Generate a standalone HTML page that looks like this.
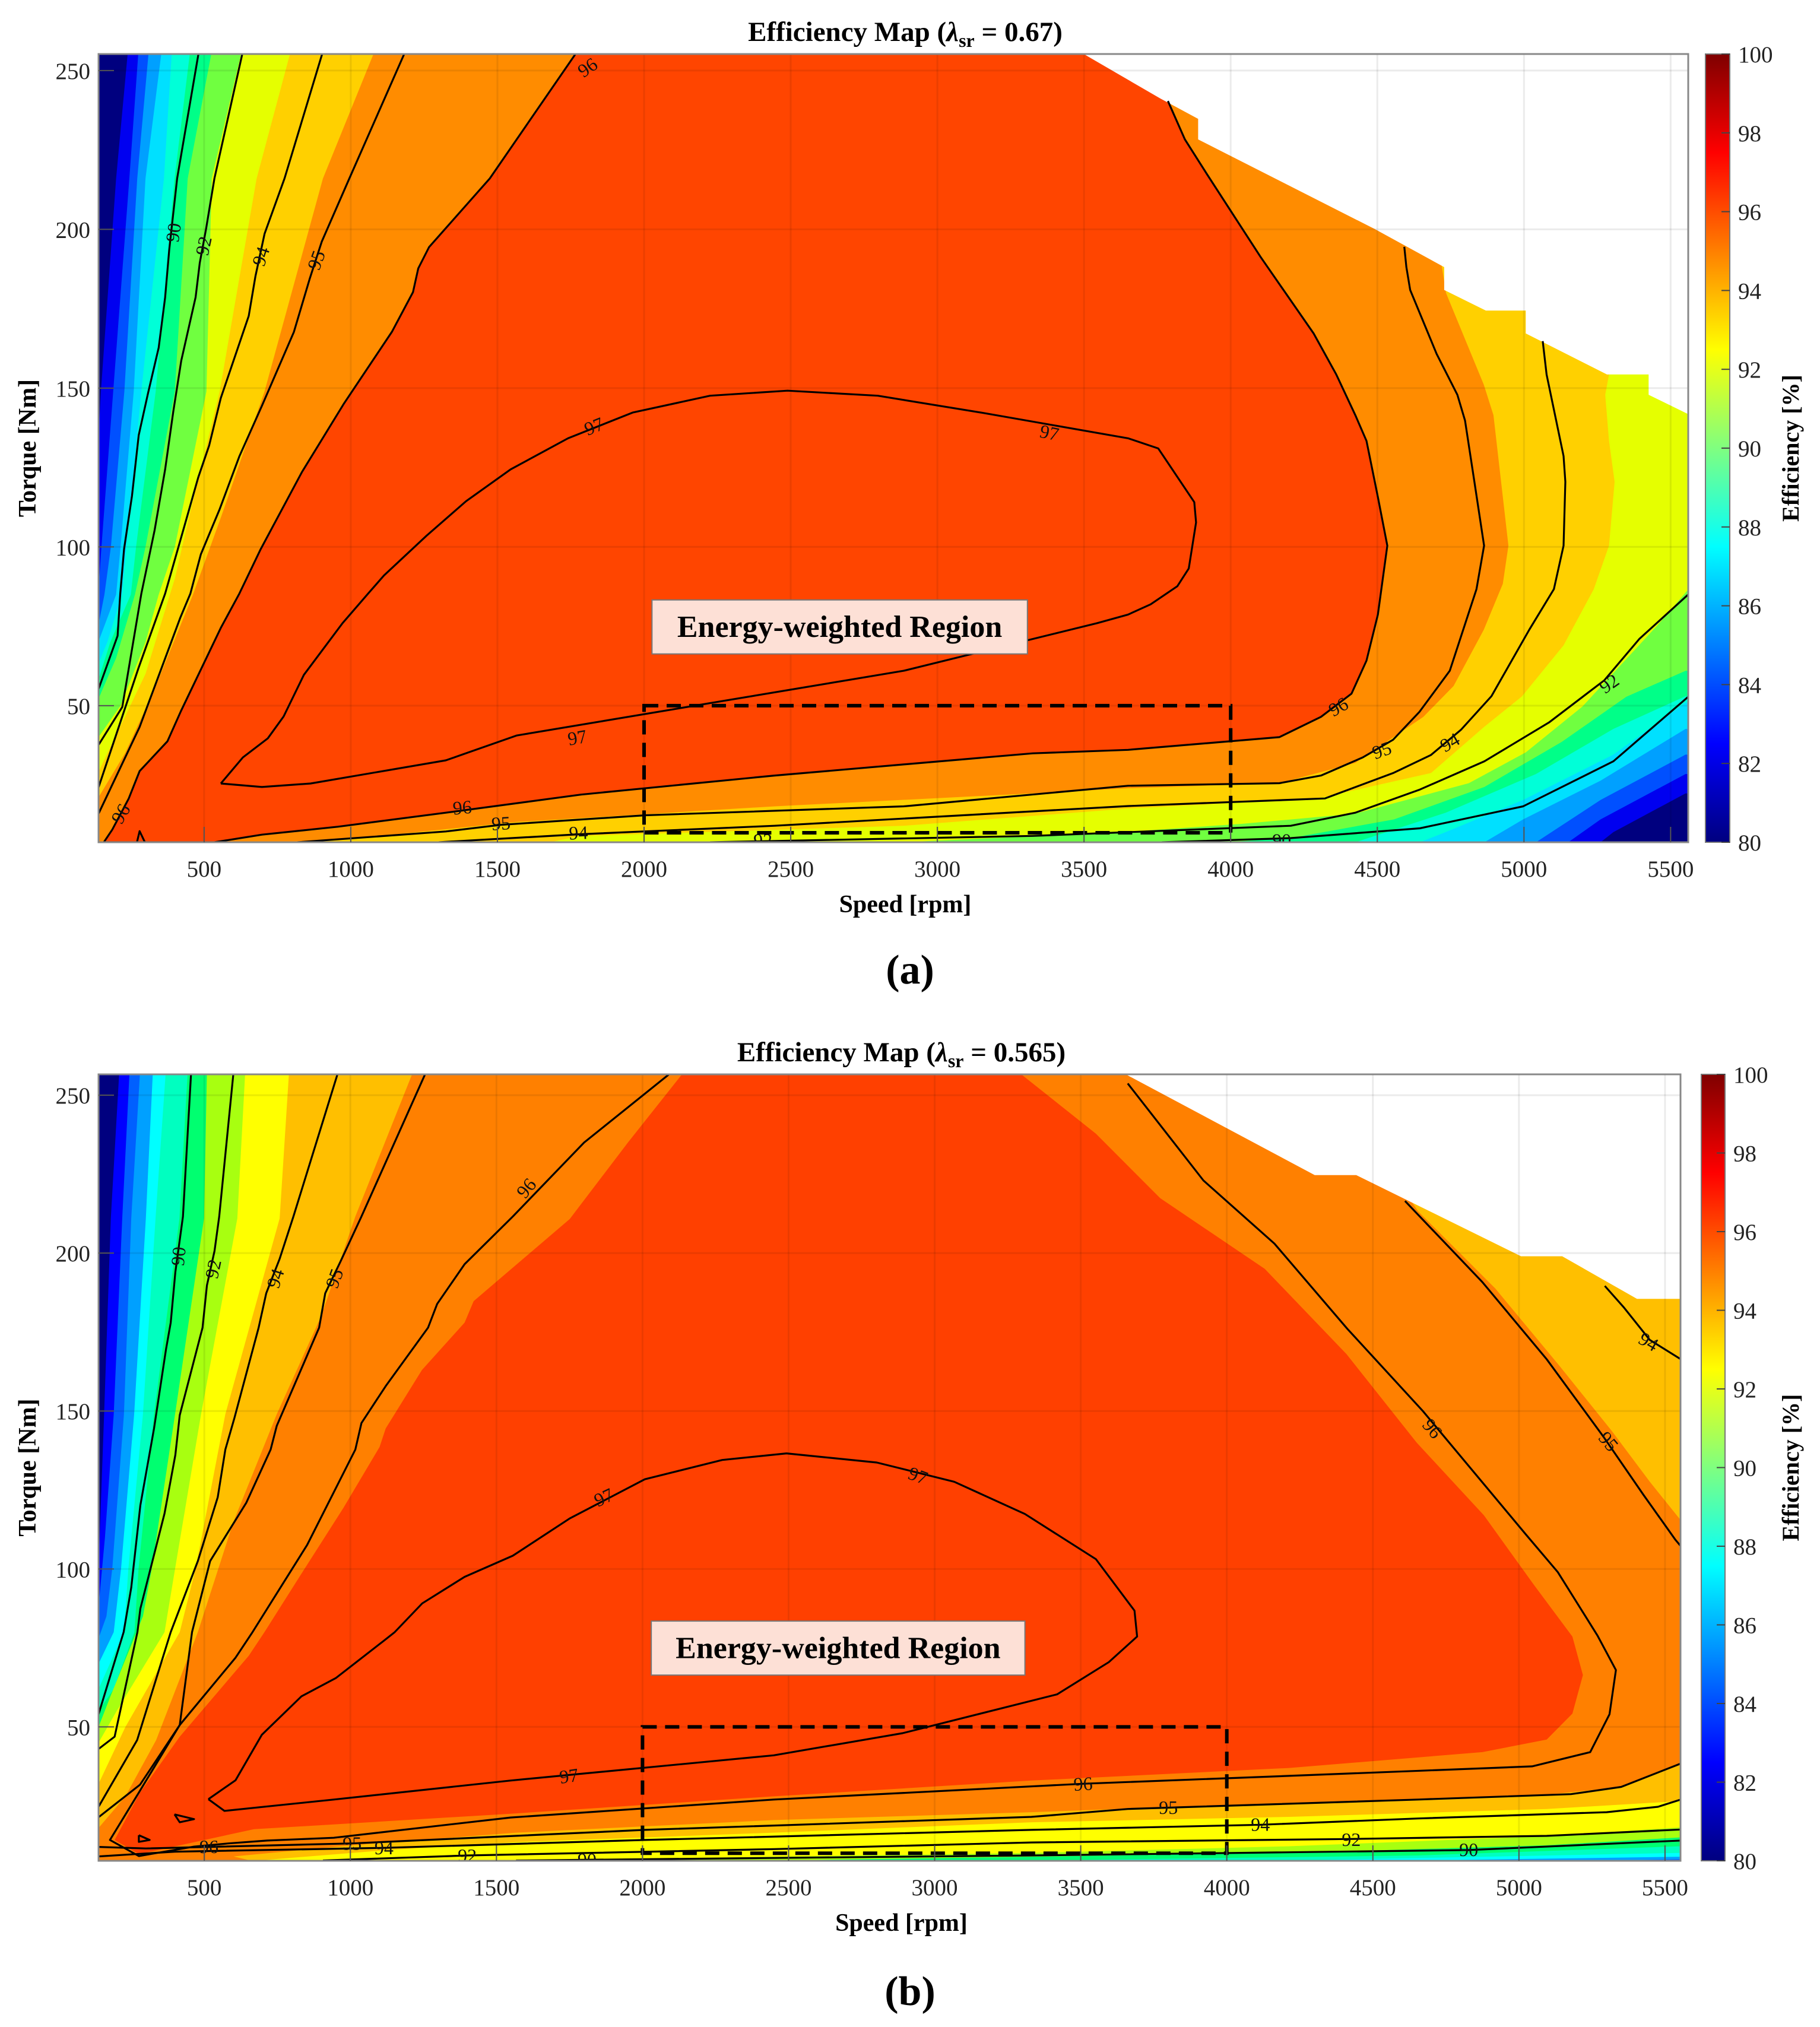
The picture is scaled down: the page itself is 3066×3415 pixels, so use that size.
<!DOCTYPE html>
<html><head><meta charset="utf-8"><title>Efficiency Maps</title>
<style>
html,body{margin:0;padding:0;background:#fff;}
svg{display:block;font-family:"Liberation Serif",serif;}
</style></head>
<body>
<svg id="fig" xmlns="http://www.w3.org/2000/svg" width="3066" height="3415" viewBox="0 0 3066 3415">
<defs>
<linearGradient id="jet" x1="0" y1="1" x2="0" y2="0">
<stop offset="0" stop-color="#00007f"/><stop offset="0.125" stop-color="#0000ff"/><stop offset="0.375" stop-color="#00ffff"/><stop offset="0.625" stop-color="#ffff00"/><stop offset="0.875" stop-color="#ff0000"/><stop offset="1" stop-color="#7f0000"/>
</linearGradient>
<clipPath id="clipA"><rect x="166" y="91" width="2678" height="1328"/></clipPath>
<clipPath id="clipB"><rect x="166" y="1810" width="2665" height="1325"/></clipPath>
</defs>
</svg>
<script>
// ---------- shared axis data ----------
const xTicks=[500,1000,1500,2000,2500,3000,3500,4000,4500,5000,5500];
const yTicks=[50,100,150,200,250];
const cbTicks=[80,82,84,86,88,90,92,94,96,98,100];
const regionBox=[[2000,10],[4000,50]];

// ---------- plot (a) data: filled regions (rpm, Nm) ----------
const aR84=[[240,256],[200,216],[148,149],[139,133],[100,133],[100,0],[5200,0],[5261,7],[5305,10.2],[5551,22.4],[5700,22],[5700,260]];
const aR85=[[276,256],[245,216],[190,149],[150,100],[139,85],[100,85],[100,0],[5100,0],[5151,7],[5261,14.2],[5551,28.5],[5700,28],[5700,260]];
const aR86=[[311,256],[272,216],[228,149],[182,100],[160,85],[139,75],[100,75],[100,0],[5000,0],[5041,7],[5261,20.3],[5551,34.6],[5700,34],[5700,260]];
const aR87=[[355,256],[300,216],[260,149],[215,100],[200,85],[139,70],[100,70],[100,0],[4800,0],[4865,7],[4997,14.2],[5261,26.4],[5551,42.7],[5700,42],[5700,260]];
const aR88=[[390,256],[363,216],[286,149],[235,100],[220,85],[170,70],[139,63],[100,63],[100,0],[4600,0],[4645,7],[4733,10.2],[4997,20.3],[5305,34.6],[5551,51],[5700,51],[5700,260]];
const aR90=[[452,256],[399,216],[335,149],[268,100],[250,85],[180,70],[139,58],[100,58],[100,0],[4400,0],[4425,7],[4733,16.3],[5041,28.5],[5305,42.7],[5551,53],[5700,53],[5700,260]];
const aR91=[[526,256],[444,216],[400,149],[300,100],[264,85],[200,65],[139,52],[100,52],[100,0],[3800,0],[3985,7],[4205,8.3],[4557,14.2],[4865,24.4],[5129,38.6],[5349,52.8],[5551,61],[5700,61],[5700,260]];
const aR92=[[628,256],[526,216],[508,149],[400,100],[345,85],[300,70],[215,50],[139,40],[100,40],[100,0],[2500,0],[2885,7],[3650,10.3],[4037,12.8],[4425,16],[4812,25.6],[5006,35.3],[5199,49.7],[5328,62.6],[5457,75.5],[5561,86.7],[5700,86],[5700,260]];
const aR94=[[795,256],[679,216],[553,149],[450,110],[400,90],[300,60],[139,29],[100,29],[100,0],[1300,0],[1785,9],[2885,12.2],[3650,17.6],[4296,20.8],[4683,28.8],[4864,43.3],[4993,52.9],[5135,69],[5238,86.7],[5290,100.4],[5309,120.5],[5290,133.4],[5277,147.9],[5290,154.3],[5290,260]];
const aR95=[[1081,256],[905,216],[706,149],[560,110],[462,85],[330,55],[230,35],[139,21],[100,21],[100,0],[818,0],[818,7],[1100,9],[1565,13.4],[2445,18.3],[3325,22.4],[3650,24],[4166,25.6],[4425,32],[4657,46.5],[4760,56.2],[4863,73.9],[4928,88.4],[4947,100.4],[4896,141.5],[4863,151.1],[4734,180],[4700,200],[4645,260],[1081,260]];
const aR96=[[3786,240.4],[3844,228.3],[3921,217.1],[4102,191.3],[4283,167.2],[4360,154.3],[4425,141.5],[4463,133.4],[4502,115.7],[4534,100.4],[4502,78.7],[4463,64.2],[4412,53.8],[4308,46.5],[4166,40.1],[3650,36.1],[3325,35],[2445,28],[1785,22],[1324,16.3],[956,11.9],[697,9.4],[535,7],[158,7],[187,11],[243,20.8],[280,29.4],[375,38.8],[421,48.3],[557,74.5],[620,85.3],[693,99.3],[833,123.5],[977,145.2],[1140,167.7],[1212,180.2],[1230,187.7],[1267,194.4],[1474,216],[1772,256],[3765,256]];
const aEnvelope=[[3484,256],[3760,241.2],[3889,234.8],[3889,228.3],[4489,200.2],[4728,188.1],[4728,180.9],[4870,174.4],[5006,174.4],[5006,167.2],[5283,154.3],[5425,154.3],[5425,147.9],[5600,140],[5600,270],[3484,270]];

// ---------- plot (a) contour lines ----------
const aL90a=[[482,256],[408,216],[381,193.6],[367,178.6],[345,162.7],[309,148.5],[277,135.2],[254,116],[227,99.3],[214,85.3],[205,72],[139,55]];
const aL90b=[[5561,52.9],[5305,32.5],[4997,18.3],[4645,11.4],[4205,8.3],[3765,7]];
const aL92a=[[632,256],[535,216],[507,200.3],[485,189.4],[471,178.6],[422,158.6],[395,142.7],[367,124.4],[331,105.2],[286,85.3],[221,49.6],[139,37.5]];
const aL92b=[[5561,85.1],[5393,71],[5274,58],[5085,44.7],[4865,32.5],[4645,23.6],[4425,16.3],[4205,12.2],[3325,9],[2225,7]];
const aL94a=[[905,256],[774,216],[706,198.6],[675,185.2],[652,172.7],[557,146.9],[517,131.9],[480,121.9],[431,106],[367,85.3],[276,61.8],[139,24]];
const aL94b=[[5064,164.8],[5077,154.3],[5135,128.6],[5141,120.5],[5135,100.4],[5102,86.7],[5018,73.9],[4889,53],[4786,42.5],[4683,34.5],[4554,28.8],[4321,20.8],[3650,18.4],[2445,12.2],[1776,9.5],[1300,7]];
const aL95a=[[1186,256],[995,216],[901,196.1],[860,184.4],[806,167.7],[697,144.4],[620,128.5],[553,111.9],[489,97.7],[453,85.3],[419,77.8],[280,43.3],[139,15.8]];
const aL95b=[[4592,194.5],[4599,188.1],[4612,180.9],[4702,160.8],[4773,147.9],[4799,139.8],[4831,120.5],[4864,100.4],[4838,86.7],[4747,61],[4644,48.1],[4554,39.3],[4450,33.7],[4308,28],[4166,25.6],[3650,24.8],[2885,18.3],[2005,15.5],[1512,12.5],[1324,10.4],[818,7]];
const aL96tri=[[271,7],[280,10.5],[298,7]];
const aL97=[[557,25.5],[632,33.7],[717,39.7],[771,46.6],[840,59.7],[972,76],[1059,85.3],[1113,91],[1258,103.5],[1393,114.4],[1545,124.4],[1741,134.2],[1961,142.3],[2225,147.6],[2489,149.2],[2797,147.6],[3149,142.3],[3650,134.2],[3753,131],[3876,114.1],[3882,107.7],[3857,93.2],[3818,87.6],[3727,81.9],[3650,78.7],[3545,76],[2885,61],[2225,50.8],[1565,40.6],[1324,32.8],[863,25.5],[697,24.4],[557,25.5]];
const aLabels=[["90",395,199,-82],["92",498,194.8,-78],["94",693,191.5,-72],["95",882,190.3,-70],["96",1807,251,-35],["97",1829,138,-22],["97",3382,136,12],["97",1772,40,-10],["96",1380,18,-5],["95",1512,13,-3],["94",1776,10,-2],["92",2405,7.7,0],["90",4174,7.7,0],["96",4367,49.7,-30],["95",4515,36,-20],["94",4747,38.5,-30],["92",5290,57,-35],["96",215,16,-60]];
const aTextBox=[[2027,83.3],[3307,66.3]];

// ---------- plot (b) data ----------
const bR84=[[209,257.3],[180,211],[157,149],[138,100],[100,100],[100,0],[5700,0],[5700,260]];
const bR85=[[244,257.3],[219,211],[190,149],[160,110],[138,88],[100,88],[100,0],[5400,0],[5700,5],[5700,260]];
const bR86=[[280,257.3],[250,211],[225,149],[185,100],[165,85],[138,78],[100,78],[100,0],[5000,0],[5316,7.7],[5554,8.1],[5700,8],[5700,260]];
const bR87=[[324,257.3],[300,211],[260,149],[215,100],[190,80],[138,70],[100,70],[100,0],[4000,0],[4654,7.7],[5554,8.9],[5700,9],[5700,260]];
const bR88=[[368,257.3],[333,211],[290,149],[240,100],[225,80],[138,62],[100,62],[100,0],[3500,0],[4213,7.7],[5554,10.1],[5700,10],[5700,260]];
const bR90=[[443,257.3],[415,211],[328,149],[275,100],[261,80],[190,62],[138,55],[100,55],[100,0],[3000,0],[3331,7.7],[4654,9.3],[5554,12.2],[5700,12],[5700,260]];
const bR91=[[509,257.3],[499,211],[400,149],[320,100],[290,85],[180,60],[138,50],[100,50],[100,0],[2500,0],[2449,7.7],[4213,10.1],[5095,12.5],[5554,15],[5700,15],[5700,260]];
const bR92=[[640,257.3],[613,211],[489,149],[400,100],[364,80],[200,55],[138,45],[100,45],[100,0],[2000,0],[1567,7.7],[3331,10.1],[4213,12.2],[5095,15.4],[5554,18.2],[5700,18],[5700,260]];
const bR94=[[790,257.3],[758,211],[572,149],[470,100],[416,80],[230,50],[138,32],[100,32],[100,0],[800,0],[685,7.7],[1126,11],[1567,13.5],[2449,16.5],[3331,19.8],[4213,21.5],[5095,24],[5554,26.5],[5700,26],[5700,260]];
const bR95=[[1214,257.3],[1017,211.6],[900,180],[748,149],[600,115],[478,80],[335,45.8],[230,28],[138,18],[100,18],[100,0],[1000,0],[600,9],[1006,12.5],[1567,16.5],[2449,20.5],[3331,23],[4213,26],[5095,28.5],[5350,31],[5554,38],[5700,38],[5700,115],[5554,115.4],[5448,127.6],[5316,143.9],[5139,164.3],[4919,188.8],[4654,213.3],[4478,237.8],[4390,260],[1214,260]];
const bR96=[[3552,237.8],[3772,217.4],[4130,195],[4410,168],[4650,140],[4880,117],[5051,95],[5183,78.6],[5219,66.4],[5183,54.2],[5095,46],[4875,42],[4213,37],[3331,33],[2449,28],[1548,22.5],[670,17.6],[276,9.7],[193,14.2],[280,29.2],[416,46.9],[652,72.5],[706,80],[831,98.3],[976,119.3],[1100,138.6],[1121,144.5],[1245,163],[1391,178],[1422,184.8],[1751,210.8],[1950,235],[2141,257.3],[3287,257.3]];
const bEnvelope=[[3640,257.3],[4301,224.7],[4443,224.7],[5007,199],[5148,199],[5404,185.5],[5600,185.5],[5600,270],[3640,270]];

const bL90a=[[455,257.3],[427,211.6],[401,194],[385,178],[369,169.6],[328,144.5],[281,120.1],[250,94.1],[224,80],[138,54]];
const bL90b=[[1567,7.7],[2449,8.5],[3331,9.3],[4828,11],[5554,14]];
const bL92a=[[600,257.3],[551,211.6],[535,200.7],[509,189.8],[494,176.4],[416,148.7],[401,136.1],[364,117.6],[281,87.4],[271,80],[193,46.9],[138,43]];
const bL92b=[[906,7.7],[1400,9.3],[2449,11.3],[3331,13.4],[4412,14.5],[5095,15.5],[5554,17.5]];
const bL94a=[[958,257.3],[805,211.6],[758,198.2],[712,187.3],[686,176.4],[603,147.8],[572,137.8],[546,122.7],[478,102.5],[385,80],[270,45.8],[138,24.7]];
const bL94b=[[5294,189.6],[5360,182.7],[5448,172.5],[5554,166.4]];
const bL94c=[[138,9],[400,10.5],[1115,11.7],[2008,14.2],[3331,17.4],[4115,19],[4654,21],[5300,23],[5476,24.7],[5554,27]];
const bL95a=[[1259,257.3],[1038,211.6],[966,197.3],[914,187.3],[893,176.4],[748,145.3],[727,137.8],[644,121],[520,102.5],[458,80],[416,50.6],[280,31.7],[138,21.4]];
const bL95b=[[138,12],[300,11.5],[1006,13.1],[2008,17.4],[3331,21.5],[3661,24],[4654,27],[5178,28.7],[5350,31],[5554,38.4]];
const bL95c=[[4610,216.5],[4875,190.8],[5095,166.4],[5289,141.9],[5426,123.5],[5536,109.2],[5554,107.2]];
const bL96=[[2096,257],[1800,235],[1556,211.6],[1391,196.5],[1297,183.9],[1266,176.4],[1121,157.9],[1038,146.2],[1017,137.8],[852,107.6],[665,80],[607,71.9],[416,50.6],[276,29.2],[177,14.2],[276,9.1],[465,12.1],[583,13.1],[715,14],[943,14.9],[1548,21.3],[2449,27],[3508,32],[4213,34.5],[5045,37.5],[5244,42],[5310,54],[5332,68],[5269,78.9],[5133,99],[5023,111],[4671,150],[4413,176],[4163,203],[3920,223],[3661,253.7]];
const bL96tri1=[[398,22.3],[465,20.8],[416,19.8],[398,22.3]];
const bL96tri2=[[276,15.7],[313,14.2],[276,13.6],[276,15.7]];
const bL97=[[514,27.1],[607,33.1],[697,47.5],[833,59.7],[951,65.5],[1115,77.3],[1152,80],[1246,89.1],[1391,97.5],[1556,104.2],[1751,116],[2008,128.4],[2273,134.5],[2493,136.6],[2802,133.7],[3067,127.6],[3309,117.4],[3552,103.1],[3684,86.8],[3693,78.6],[3596,70.5],[3419,60.3],[2890,48],[2449,41],[1548,33],[943,27],[569,23.4],[514,27.1]];
const bLabels=[["90",411,199,-84],["92",530,195,-78],["94",743,192,-72],["95",945,192,-70],["96",1602,220.6,-50],["97",1867,122.7,-25],["97",2943,129.6,20],["97",1748,34.5,-8],["96",3508,32,-3],["96",516,12.1,0],["95",1006,13.1,0],["94",1115,11.7,0],["92",1400,9.3,0],["90",1810,8,0],["95",3800,24.5,0],["94",4115,19.2,0],["92",4426,14.4,0],["90",4828,11.2,0],["96",4704,144.5,50],["95",5307,140.4,50],["94",5444,172,30]];
const bTextBox=[[2030,83.5],[3309,66.4]];

const svg=document.getElementById('fig');
const NS='http://www.w3.org/2000/svg';
function mk(tag,parent){const e=document.createElementNS(NS,tag);parent.appendChild(e);return e;}

function drawPlot(P){
  const g=mk('g',svg);
  
  
  const X=s=>P.L+(s-P.x0)/(P.x1-P.x0)*(P.R-P.L);
  const Y=t=>P.B-(t-P.y0)/(P.y1-P.y0)*(P.B-P.T);
  const pts=a=>a.map(p=>X(p[0]).toFixed(1)+','+Y(p[1]).toFixed(1)).join(' ');
  const inner=mk('g',g);
  inner.setAttribute('clip-path','url(#'+P.clip+')');
  
  
  const bg=mk('rect',inner);
  bg.setAttribute('x',P.L);bg.setAttribute('y',P.T);bg.setAttribute('width',P.R-P.L);bg.setAttribute('height',P.B-P.T);bg.setAttribute('fill','#00007f');
  
  
  P.regions.forEach(r=>{
    const pg=mk('polygon',inner);
    pg.setAttribute('points',pts(r[2]));pg.setAttribute('fill',r[1]);
    
    
  });
  const env=mk('polygon',inner);
  env.setAttribute('points',pts(P.envelope));env.setAttribute('fill','#fff');
  
  
  xTicks.forEach(v=>{const l=mk('line',inner);l.setAttribute('x1',X(v));l.setAttribute('x2',X(v));l.setAttribute('y1',P.T);l.setAttribute('y2',P.B);l.setAttribute('stroke','#000');l.setAttribute('stroke-opacity','0.08');l.setAttribute('stroke-width','3');
    
    });
  yTicks.forEach(v=>{const l=mk('line',inner);l.setAttribute('y1',Y(v));l.setAttribute('y2',Y(v));l.setAttribute('x1',P.L);l.setAttribute('x2',P.R);l.setAttribute('stroke','#000');l.setAttribute('stroke-opacity','0.08');l.setAttribute('stroke-width','3');
    
    });
  P.lines.forEach(ln=>{
    const pl=mk('polyline',inner);
    pl.setAttribute('points',pts(ln[1]));pl.setAttribute('fill','none');pl.setAttribute('stroke','#000');pl.setAttribute('stroke-width','3.2');pl.setAttribute('stroke-linejoin','round');
    
    
  });
  P.labels.forEach(lb=>{
    const t=mk('text',inner);
    t.textContent=lb[0];
    t.setAttribute('x',X(lb[1]));t.setAttribute('y',Y(lb[2]));t.setAttribute('font-size','32');t.setAttribute('fill','#111');t.setAttribute('text-anchor','middle');t.setAttribute('dominant-baseline','central');
    t.setAttribute('transform','rotate('+lb[3]+' '+X(lb[1])+' '+Y(lb[2])+')');
    
    
  });
  const rb=mk('rect',g);
  rb.setAttribute('x',X(regionBox[0][0]));rb.setAttribute('y',Y(regionBox[1][1]));rb.setAttribute('width',X(regionBox[1][0])-X(regionBox[0][0]));rb.setAttribute('height',Y(regionBox[0][1])-Y(regionBox[1][1]));
  rb.setAttribute('fill','none');rb.setAttribute('stroke','#000');rb.setAttribute('stroke-width','6');rb.setAttribute('stroke-dasharray','24 14');
  
  
  const tb=mk('rect',g);
  tb.setAttribute('x',X(P.textBox[0][0]));tb.setAttribute('y',Y(P.textBox[0][1]));tb.setAttribute('width',X(P.textBox[1][0])-X(P.textBox[0][0]));tb.setAttribute('height',Y(P.textBox[1][1])-Y(P.textBox[0][1]));
  tb.setAttribute('fill','#fde0d6');tb.setAttribute('stroke','#777');tb.setAttribute('stroke-width','2');
  
  
  const tt=mk('text',g);
  tt.textContent='Energy-weighted Region';
  tt.setAttribute('x',(X(P.textBox[0][0])+X(P.textBox[1][0]))/2);tt.setAttribute('y',(Y(P.textBox[0][1])+Y(P.textBox[1][1]))/2+17);
  tt.setAttribute('font-size','52');tt.setAttribute('font-weight','bold');tt.setAttribute('text-anchor','middle');
  
  
  const bd=mk('rect',g);
  bd.setAttribute('x',P.L);bd.setAttribute('y',P.T);bd.setAttribute('width',P.R-P.L);bd.setAttribute('height',P.B-P.T);bd.setAttribute('fill','none');bd.setAttribute('stroke','#888');bd.setAttribute('stroke-width','3');
  
  
  xTicks.forEach(v=>{
    const tk=mk('line',g);tk.setAttribute('x1',X(v));tk.setAttribute('x2',X(v));tk.setAttribute('y1',P.B);tk.setAttribute('y2',P.B-26);tk.setAttribute('stroke','#555');tk.setAttribute('stroke-width','2');
    
    
    const t=mk('text',g);t.textContent=v;t.setAttribute('x',X(v));t.setAttribute('y',P.B+58);t.setAttribute('font-size','39');t.setAttribute('text-anchor','middle');t.setAttribute('fill','#222');
    
    
  });
  yTicks.forEach(v=>{
    const tk=mk('line',g);tk.setAttribute('y1',Y(v));tk.setAttribute('y2',Y(v));tk.setAttribute('x1',P.L);tk.setAttribute('x2',P.L+26);tk.setAttribute('stroke','#555');tk.setAttribute('stroke-width','2');
    
    
    const t=mk('text',g);t.textContent=v;t.setAttribute('x',P.L-14);t.setAttribute('y',Y(v)+14);t.setAttribute('font-size','39');t.setAttribute('text-anchor','end');t.setAttribute('fill','#222');
    
    
  });
  const ti=mk('text',g);
  ti.setAttribute('x',(P.L+P.R)/2+20);ti.setAttribute('y',P.T-22);ti.setAttribute('font-size','47');ti.setAttribute('font-weight','bold');ti.setAttribute('text-anchor','middle');
  ti.innerHTML='Efficiency Map (<tspan font-style="italic">λ</tspan><tspan font-size="32" dy="10">sr</tspan><tspan dy="-10"> = '+P.lambda+')</tspan>';
  
  
  const xl=mk('text',g);xl.textContent='Speed [rpm]';
  xl.setAttribute('x',(P.L+P.R)/2+20);xl.setAttribute('y',P.B+118);xl.setAttribute('font-size','42');xl.setAttribute('font-weight','bold');xl.setAttribute('text-anchor','middle');
  
  
  const yl=mk('text',g);yl.textContent='Torque [Nm]';
  const yc=(P.T+P.B)/2;
  yl.setAttribute('x',60);yl.setAttribute('y',yc);yl.setAttribute('font-size','42');yl.setAttribute('font-weight','bold');yl.setAttribute('text-anchor','middle');
  yl.setAttribute('transform','rotate(-90 60 '+yc+')');
  
  
  const cb=mk('rect',g);
  cb.setAttribute('x',P.cbL);cb.setAttribute('y',P.T);cb.setAttribute('width',P.cbW);cb.setAttribute('height',P.B-P.T);cb.setAttribute('fill','url(#jet)');cb.setAttribute('stroke','#777');cb.setAttribute('stroke-width','2');
  
  
  const CY=v=>P.B-(v-80)/20*(P.B-P.T);
  cbTicks.forEach(v=>{
    const tk=mk('line',g);tk.setAttribute('x1',P.cbL+P.cbW-14);tk.setAttribute('x2',P.cbL+P.cbW);tk.setAttribute('y1',CY(v));tk.setAttribute('y2',CY(v));tk.setAttribute('stroke','#444');tk.setAttribute('stroke-width','2');
    
    
    const t=mk('text',g);t.textContent=v;t.setAttribute('x',P.cbL+P.cbW+14);t.setAttribute('y',CY(v)+14);t.setAttribute('font-size','39');t.setAttribute('fill','#222');
    
    
  });
  const cl=mk('text',g);cl.textContent='Efficiency [%]';
  cl.setAttribute('x',3030);cl.setAttribute('y',yc);cl.setAttribute('font-size','40');cl.setAttribute('font-weight','bold');cl.setAttribute('text-anchor','middle');
  cl.setAttribute('transform','rotate(-90 3030 '+yc+')');
  
  
  const pl=mk('text',g);pl.textContent=P.panel;
  pl.setAttribute('x',1533);pl.setAttribute('y',P.panelY);pl.setAttribute('font-size','70');pl.setAttribute('font-weight','bold');pl.setAttribute('text-anchor','middle');
  
  
}

drawPlot({name:'efficiency-map-a',clip:'clipA',L:166,R:2844,T:91,B:1419,x0:140,x1:5560,y0:7,y1:255.2,
  cbL:2873,cbW:41,lambda:'0.67',panel:'(a)',panelY:1657,
  regions:[[84,'#0000f0',aR84],[85,'#0050ff',aR85],[86,'#00a0ff',aR86],[87,'#00e0ff',aR87],[88,'#00ffd8',aR88],[90,'#00ff88',aR90],[91,'#70ff40',aR91],[92,'#e5ff00',aR92],[94,'#ffd000',aR94],[95,'#ff8c00',aR95],[96,'#ff4500',aR96]],
  envelope:aEnvelope,
  lines:[[90,aL90a],[90,aL90b],[92,aL92a],[92,aL92b],[94,aL94a],[94,aL94b],[95,aL95a],[95,aL95b],[96,aR96.slice(0,-1)],[96,aL96tri],[97,aL97]],
  labels:aLabels,textBox:aTextBox});
drawPlot({name:'efficiency-map-b',clip:'clipB',L:166,R:2831,T:1810,B:3135,x0:138,x1:5553,y0:7.6,y1:256.6,
  cbL:2866,cbW:40,lambda:'0.565',panel:'(b)',panelY:3378,
  regions:[[84,'#0000ff',bR84],[85,'#0060ff',bR85],[86,'#00a0ff',bR86],[87,'#00ffff',bR87],[88,'#00ffc0',bR88],[90,'#00ff70',bR90],[91,'#a8ff10',bR91],[92,'#ffff00',bR92],[94,'#ffbf00',bR94],[95,'#ff8000',bR95],[96,'#ff4000',bR96]],
  envelope:bEnvelope,
  lines:[[90,bL90a],[90,bL90b],[92,bL92a],[92,bL92b],[94,bL94a],[94,bL94b],[94,bL94c],[95,bL95a],[95,bL95b],[95,bL95c],[96,bL96],[96,bL96tri1],[96,bL96tri2],[97,bL97]],
  labels:bLabels,textBox:bTextBox});
</script>
</body></html>
